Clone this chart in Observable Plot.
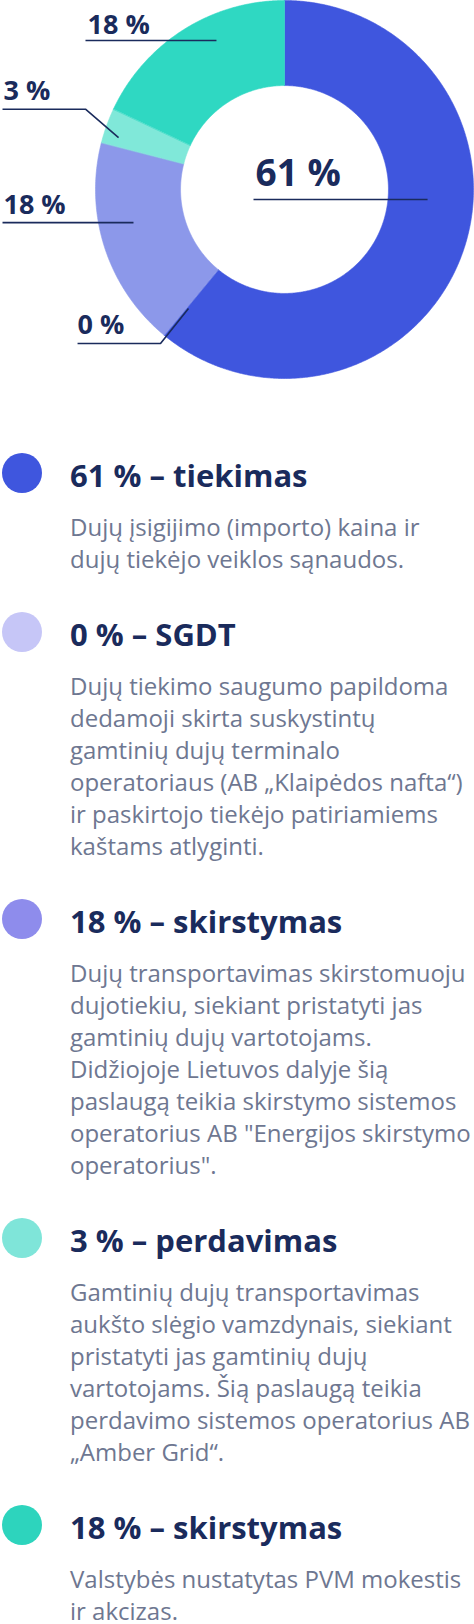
<!DOCTYPE html>
<html><head><meta charset="utf-8">
<script src="https://cdn.jsdelivr.net/npm/d3@7"></script>
<script src="https://cdn.jsdelivr.net/npm/@observablehq/plot@0.6"></script>
<style>
  html,body{margin:0;padding:0;background:#fff;}
  #wrap{position:relative;width:474px;height:1624px;overflow:hidden;font-family:"Open Sans",sans-serif;}
  #chart svg{display:block;}
  .dot{position:absolute;left:2px;width:40px;height:40px;border-radius:50%;}
  .head{position:absolute;left:70px;font-size:31px;line-height:32px;font-weight:700;color:#1a2b5c;white-space:nowrap;}
  .desc{position:absolute;left:70px;font-size:24px;line-height:32px;color:#6e7791;white-space:nowrap;}
</style></head>
<body>
<div id="wrap"><div id="chart"></div></div>
<script>
// ---- data ----
const categories = ["tiekimas", "SGDT", "skirstymas", "perdavimas", "skirstymas"];
const values = [61, 0, 18, 3, 18];
const sliceColors = ["#3f56de", "#c6c6f7", "#8c98ea", "#80e8d9", "#2fd8c2"];
const legendColors = ["#3f56de", "#c6c6f7", "#8e8cec", "#7fe5d9", "#2dd4bd"];
const descriptions = [
  ["Dujų įsigijimo (importo) kaina ir", "dujų tiekėjo veiklos sąnaudos."],
  ["Dujų tiekimo saugumo papildoma", "dedamoji skirta suskystintų", "gamtinių dujų terminalo", "operatoriaus (AB „Klaipėdos nafta“)", "ir paskirtojo tiekėjo patiriamiems", "kaštams atlyginti."],
  ["Dujų transportavimas skirstomuoju", "dujotiekiu, siekiant pristatyti jas", "gamtinių dujų vartotojams.", "Didžiojoje Lietuvos dalyje šią", "paslaugą teikia skirstymo sistemos", "operatorius AB \"Energijos skirstymo", "operatorius\"."],
  ["Gamtinių dujų transportavimas", "aukšto slėgio vamzdynais, siekiant", "pristatyti jas gamtinių dujų", "vartotojams. Šią paslaugą teikia", "perdavimo sistemos operatorius AB", "„Amber Grid“."],
  ["Valstybės nustatytas PVM mokestis", "ir akcizas."]
];

// ---- layout (annotation placement, in units of outer radius) ----
const cx = 284, cy = 189, R = 189, innerRatio = 0.55;
const labelLayout = [
  {text: [-0.153, 0.021], path: [[-0.164, -0.053], [0.757, -0.053]], size: 37},
  {text: [-1.095, -0.762], path: [[-1.095, -0.815], [-0.656, -0.815], [-0.508, -0.630]], size: 27},
  {text: [-1.487, -0.127], path: [[-1.492, -0.175], [-0.799, -0.175]], size: 27},
  {text: [-1.487, 0.476], path: [[-1.492, 0.425], [-1.053, 0.425], [-0.878, 0.275]], size: 27},
  {text: [-1.042, 0.825], path: [[-1.053, 0.788], [-0.360, 0.788]], size: 27}
];
const ink = "#1a2b5c";

// ---- donut polygons from d3.pie angles ----
const arcs = d3.pie().sort(null).value(d => d)(values);
const slicePts = [];
arcs.forEach((a, i) => {
  if (a.endAngle - a.startAngle <= 0) return;
  const n = Math.max(2, Math.ceil((a.endAngle - a.startAngle) / (Math.PI / 360)));
  for (let k = 0; k <= n; k++) {
    const t = a.startAngle + (a.endAngle - a.startAngle) * k / n;
    slicePts.push({k: i, x: Math.sin(t), y: Math.cos(t), c: sliceColors[i]});
  }
  for (let k = n; k >= 0; k--) {
    const t = a.startAngle + (a.endAngle - a.startAngle) * k / n;
    slicePts.push({k: i, x: innerRatio * Math.sin(t), y: innerRatio * Math.cos(t), c: sliceColors[i]});
  }
});

const leaderPts = labelLayout.flatMap((l, i) => l.path.map(([x, y]) => ({k: i, x, y})));
const labels = values.map((v, i) => ({label: `${v} %`, x: labelLayout[i].text[0], y: labelLayout[i].text[1], size: labelLayout[i].size}));

const chart = Plot.plot({
  width: 474, height: 380, margin: 0,
  x: {domain: [-1, 1], range: [cx - R, cx + R], axis: null},
  y: {domain: [-1, 1], range: [cy + R, cy - R], axis: null},
  color: {type: "identity"},
  style: {fontFamily: "Open Sans, sans-serif", overflow: "visible", background: "#fff"},
  marks: [
    Plot.line(slicePts, {x: "x", y: "y", z: "k", fill: "c", stroke: "c", strokeWidth: 0.6, curve: "linear-closed"}),
    Plot.line(leaderPts, {x: "x", y: "y", z: "k", stroke: ink, strokeWidth: 1.6, strokeLinejoin: "miter", strokeLinecap: "butt"}),
    Plot.text(labels.filter(d => d.size > 30), {x: "x", y: "y", text: "label", textAnchor: "start", lineAnchor: "bottom", fontSize: 37, fontWeight: 700, fill: ink}),
    Plot.text(labels.filter(d => d.size <= 30), {x: "x", y: "y", text: "label", textAnchor: "start", lineAnchor: "bottom", fontSize: 27, fontWeight: 700, fill: ink})
  ]
});
document.getElementById("chart").appendChild(chart);

// ---- legend (HTML below the chart) ----
const wrap = document.getElementById("wrap");
const headBase = 1.069 * 31 + (32 - 1.362 * 31) / 2;
const descBase = 1.069 * 24 + (32 - 1.362 * 24) / 2;
let C = 473;
values.forEach((v, i) => {
  const dot = document.createElement("div");
  dot.className = "dot";
  dot.style.top = (C - 20) + "px";
  dot.style.background = legendColors[i];
  wrap.appendChild(dot);
  const head = document.createElement("div");
  head.className = "head";
  head.style.top = (C + 14 - headBase) + "px";
  head.textContent = `${v} % – ${categories[i]}`;
  wrap.appendChild(head);
  const desc = document.createElement("div");
  desc.className = "desc";
  desc.style.top = (C + 63 - descBase) + "px";
  descriptions[i].forEach((line, j) => {
    if (j) desc.appendChild(document.createElement("br"));
    desc.appendChild(document.createTextNode(line));
  });
  wrap.appendChild(desc);
  C = C + 63 + 32 * (descriptions[i].length - 1) + 64;
});
</script>
</body></html>
